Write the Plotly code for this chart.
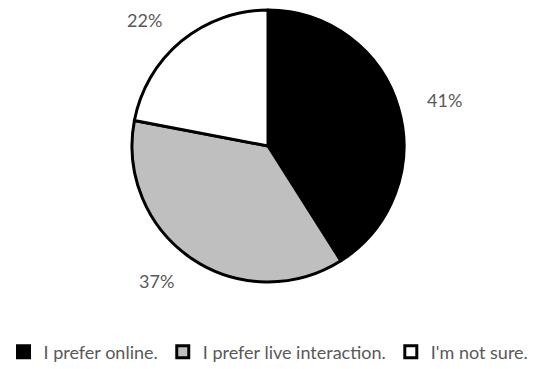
import math
import plotly.graph_objects as go

labels = ["I prefer online.", "I prefer live interaction.", "I'm not sure."]
values = [41, 37, 22]
colors = ["#000000", "#bfbfbf", "#ffffff"]

W, H = 537, 369
cx, cy, R = 268, 146, 136

dom_x = [(cx - R) / W, (cx + R) / W]
dom_y = [1 - (cy + R) / H, 1 - (cy - R) / H]

FONT = "Lato"

fig = go.Figure(go.Pie(
    labels=labels, values=values, sort=False, direction="clockwise", rotation=0,
    marker=dict(colors=colors, line=dict(color="#000000", width=3)),
    textinfo="none", hoverinfo="label+percent",
    domain=dict(x=dom_x, y=dom_y),
))

total = sum(values)
cum = 0
annotations = []
for v in values:
    mid = (cum + v / 2) / total * 2 * math.pi
    cum += v
    rr = R * 1.2
    s, c = math.sin(mid), math.cos(mid)
    px = cx + rr * s
    py = cy - rr * c
    annotations.append(dict(
        x=px / W, y=1 - py / H, xref="paper", yref="paper",
        xanchor="left" if s > 0 else "right", yanchor="middle",
        text=f"{round(v / total * 100)}%", showarrow=False,
        font=dict(size=18, color="#595959", family=FONT),
    ))

fig.update_layout(
    width=W, height=H, margin=dict(l=0, r=0, t=0, b=0, autoexpand=False),
    paper_bgcolor="white", plot_bgcolor="white",
    annotations=annotations,
    showlegend=True,
    legend=dict(orientation="h", x=0.5, xanchor="center", y=1 - 352 / H, yanchor="middle",
                font=dict(size=18, color="#595959", family=FONT),
                itemwidth=30, traceorder="normal"),
)
fig.write_html("out.html", config={"displayModeBar": False},
               post_script="document.body.style.margin='0';document.body.style.overflow='hidden';")
